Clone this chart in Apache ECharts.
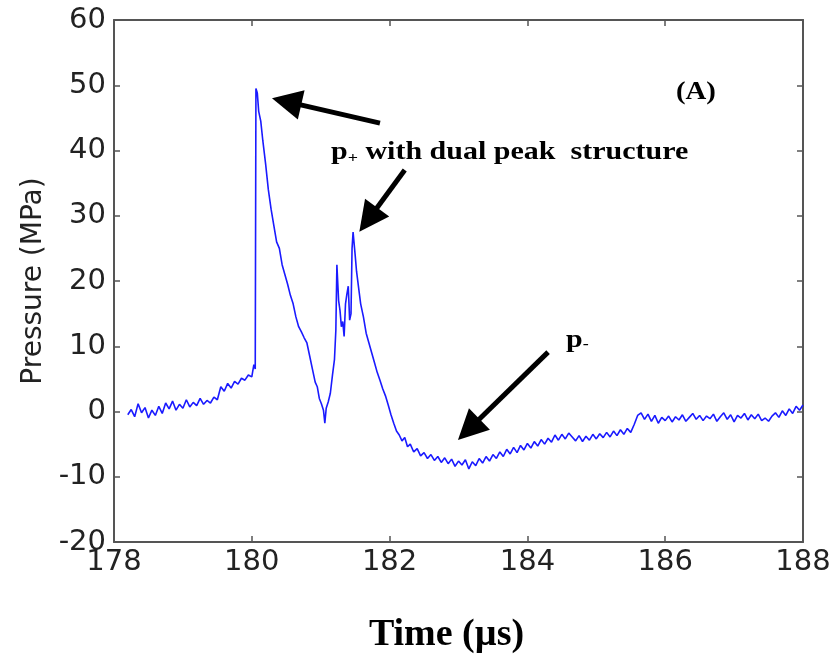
<!DOCTYPE html>
<html>
<head>
<meta charset="utf-8">
<script src="https://cdn.jsdelivr.net/npm/echarts@6/dist/echarts.min.js"></script>
<style>html,body{margin:0;padding:0;background:#fff}#c{width:840px;height:662px}</style>
</head>
<body>
<div id="c"></div>
<script>
var timeUs = [
178.20,178.25,178.30,178.35,178.40,178.45,178.50,178.55,178.60,178.65,178.70,178.75,178.80,178.85,178.90,178.95,
179.00,179.05,179.10,179.15,179.20,179.25,179.30,179.35,179.40,179.45,179.50,179.55,179.60,179.65,179.70,179.75,
179.80,179.85,179.90,179.95,180.00,180.03,180.05,180.06,180.08,180.10,180.13,180.16,180.20,180.24,180.28,180.32,
180.36,180.40,180.44,180.48,180.52,180.56,180.60,180.64,180.68,180.72,180.76,180.80,180.84,180.88,180.92,180.95,
180.98,181.01,181.04,181.06,181.08,181.11,181.14,181.17,181.20,181.22,181.235,181.25,181.26,181.28,181.30,181.32,
181.34,181.36,181.38,181.40,181.42,181.44,181.455,181.47,181.49,181.50,181.52,181.55,181.58,181.62,181.66,181.70,
181.74,181.78,181.82,181.86,181.90,181.94,181.98,182.02,182.06,182.10,182.14,182.18,182.22,182.26,182.30,182.35,
182.40,182.45,182.50,182.55,182.60,182.65,182.70,182.75,182.80,182.85,182.90,182.95,183.00,183.05,183.10,183.15,
183.20,183.25,183.30,183.35,183.40,183.45,183.50,183.55,183.60,183.65,183.70,183.75,183.80,183.85,183.90,183.95,
184.00,184.05,184.10,184.15,184.20,184.25,184.30,184.35,184.40,184.45,184.50,184.55,184.60,184.65,184.70,184.75,
184.80,184.85,184.90,184.95,185.00,185.05,185.10,185.15,185.20,185.25,185.30,185.35,185.40,185.45,185.50,185.55,
185.60,185.65,185.70,185.75,185.80,185.85,185.90,185.95,186.00,186.05,186.10,186.15,186.20,186.25,186.30,186.35,
186.40,186.45,186.50,186.55,186.60,186.65,186.70,186.75,186.80,186.85,186.90,186.95,187.00,187.05,187.10,187.15,
187.20,187.25,187.30,187.35,187.40,187.45,187.50,187.55,187.60,187.65,187.70,187.75,187.80,187.85,187.90,187.95,
188.00
];
var pressureMPa = [
-0.5,0.3,-0.8,1.2,-0.2,0.6,-1.0,0.2,-0.6,0.8,-0.3,1.3,0.4,1.6,0.2,1.1,
0.5,1.8,0.7,1.4,0.9,2.0,1.1,1.7,1.3,2.2,1.8,3.8,3.1,4.3,3.6,4.6,
4.2,5.1,4.8,5.6,5.3,7.2,6.5,49.5,48.8,46.0,44.5,41.5,38.0,34.0,31.0,28.5,
26.0,25.0,22.5,21.0,19.5,17.8,16.5,14.5,13.0,12.2,11.3,10.5,8.5,6.5,4.5,3.8,
2.0,1.2,0.2,-1.8,0.5,1.5,2.8,5.5,8.0,12.5,22.5,22.8,17.0,15.5,13.0,13.8,
11.5,16.5,18.0,19.2,14.0,15.0,25.0,27.5,27.8,24.0,21.5,19.0,16.5,14.5,12.0,10.5,
9.0,7.5,6.0,4.8,3.5,2.4,1.0,-0.5,-1.8,-3.0,-3.6,-4.5,-4.0,-5.4,-5.0,-6.2,
-5.7,-6.8,-6.3,-7.2,-6.6,-7.5,-6.9,-7.8,-7.1,-8.0,-7.3,-8.4,-7.6,-8.2,-7.4,-8.8,
-7.7,-8.3,-7.2,-7.9,-6.9,-7.6,-6.6,-7.2,-6.2,-6.9,-5.8,-6.5,-5.5,-6.3,-5.2,-5.9,
-4.9,-5.6,-4.6,-5.3,-4.3,-5.0,-4.1,-4.7,-3.6,-4.4,-3.5,-4.2,-3.3,-3.9,-4.5,-3.7,
-4.6,-3.8,-4.4,-3.5,-4.2,-3.4,-4.0,-3.2,-3.9,-3.0,-3.7,-2.8,-3.5,-2.6,-3.2,-2.0,
-0.6,-0.2,-1.2,-0.4,-1.5,-0.6,-1.8,-0.9,-1.4,-0.7,-1.6,-0.8,-1.3,-0.5,-1.5,-0.9,
-0.3,-1.2,-0.6,-1.4,-0.7,-1.1,-0.4,-1.5,-0.8,-0.2,-1.2,-0.5,-1.6,-0.6,-1.0,-0.3,
-1.3,-0.5,-1.1,-0.4,-1.4,-1.0,-1.5,-0.7,-0.2,-0.9,0.1,-0.6,0.4,-0.3,0.8,0.2,
1.0
];
var xTicks = [178, 180, 182, 184, 186, 188];
var yTicks = [-20, -10, 0, 10, 20, 30, 40, 50, 60];
var arrowLines = [
  {from: [181.86, 44.2], to: [180.505, 47.5]},
  {from: [182.22, 37.0], to: [181.69, 29.4]},
  {from: [184.30, 9.1], to: [183.148, -2.76]}
];

var seriesData = timeUs.map(function (t, i) { return [t, pressureMPa[i]]; });
var axisColor = '#555555';
var tickFont = {fontFamily: 'DejaVu Sans', fontSize: 29, color: '#222'};

var chart = echarts.init(document.getElementById('c'), null, {renderer: 'canvas'});
chart.setOption({
  backgroundColor: '#ffffff',
  animation: false,
  grid: {left: 114, right: 37, top: 20, bottom: 120, containLabel: false},
  xAxis: [{
    type: 'value', min: xTicks[0], max: xTicks[xTicks.length - 1], interval: 2,
    position: 'bottom',
    axisLine: {show: true, onZero: false, lineStyle: {color: axisColor, width: 2}},
    axisTick: {show: true, inside: true, length: 6, lineStyle: {color: axisColor, width: 1.5}},
    axisLabel: Object.assign({margin: 6}, tickFont),
    splitLine: {show: false},
    name: 'Time (\u00b5s)', nameLocation: 'middle', nameGap: 74,
    nameTextStyle: {fontFamily: 'Liberation Serif', fontWeight: 'bold', fontSize: 38, color: '#000', padding: [0, 24, 0, 0]}
  }, {
    type: 'value', min: xTicks[0], max: xTicks[xTicks.length - 1], interval: 2,
    position: 'top',
    axisLine: {show: true, onZero: false, lineStyle: {color: axisColor, width: 2}},
    axisTick: {show: true, inside: true, length: 6, lineStyle: {color: axisColor, width: 1.5}},
    axisLabel: {show: false}, splitLine: {show: false}
  }],
  yAxis: [{
    type: 'value', min: yTicks[0], max: yTicks[yTicks.length - 1], interval: 10,
    position: 'left',
    axisLine: {show: true, onZero: false, lineStyle: {color: axisColor, width: 2}},
    axisTick: {show: true, inside: true, length: 6, lineStyle: {color: axisColor, width: 1.5}},
    axisLabel: Object.assign({margin: 8}, tickFont),
    splitLine: {show: false},
    name: 'Pressure (MPa)', nameLocation: 'middle', nameGap: 66, nameRotate: 90,
    nameTextStyle: {fontFamily: 'DejaVu Sans', fontSize: 28, color: '#222'}
  }, {
    type: 'value', min: yTicks[0], max: yTicks[yTicks.length - 1], interval: 10,
    position: 'right',
    axisLine: {show: true, onZero: false, lineStyle: {color: axisColor, width: 2}},
    axisTick: {show: true, inside: true, length: 6, lineStyle: {color: axisColor, width: 1.5}},
    axisLabel: {show: false}, splitLine: {show: false}
  }],
  series: [{
    type: 'line', xAxisIndex: 0, yAxisIndex: 0,
    data: seriesData, showSymbol: false, symbol: 'none',
    lineStyle: {color: '#1a1aff', width: 1.6},
    markLine: {
      silent: true, animation: false,
      symbol: ['none', 'triangle'], symbolSize: 30,
      label: {show: false},
      lineStyle: {color: '#000', width: 5, type: 'solid'},
      data: arrowLines.map(function (a) {
        return [{coord: a.from}, {coord: a.to}];
      })
    }
  }],
  graphic: [
    {type: 'text', x: 676, y: 93, scaleX: 1.15, style: {text: '(A)', fontFamily: 'Liberation Serif', fontWeight: 'bold', fontSize: 25, fill: '#000', textAlign: 'left', textVerticalAlign: 'middle'}},
    {type: 'text', x: 331, y: 153, scaleX: 1.2, style: {
      text: '{b|p}{s|+}{b| with dual peak  structure}',
      textAlign: 'left', textVerticalAlign: 'middle',
      rich: {
        b: {fontFamily: 'Liberation Serif', fontWeight: 'bold', fontSize: 25, fill: '#000', color: '#000'},
        s: {fontFamily: 'Liberation Serif', fontWeight: 'bold', fontSize: 15, fill: '#000', color: '#000', padding: [10, 0, 0, 0]}
      }
    }},
    {type: 'text', x: 566, y: 341, scaleX: 1.2, style: {
      text: '{b|p}{s|-}',
      textAlign: 'left', textVerticalAlign: 'middle',
      rich: {
        b: {fontFamily: 'Liberation Serif', fontWeight: 'bold', fontSize: 25, fill: '#000', color: '#000'},
        s: {fontFamily: 'Liberation Serif', fontWeight: 'bold', fontSize: 15, fill: '#000', color: '#000', padding: [6, 0, 0, 0]}
      }
    }}
  ]
});
</script>
</body>
</html>
